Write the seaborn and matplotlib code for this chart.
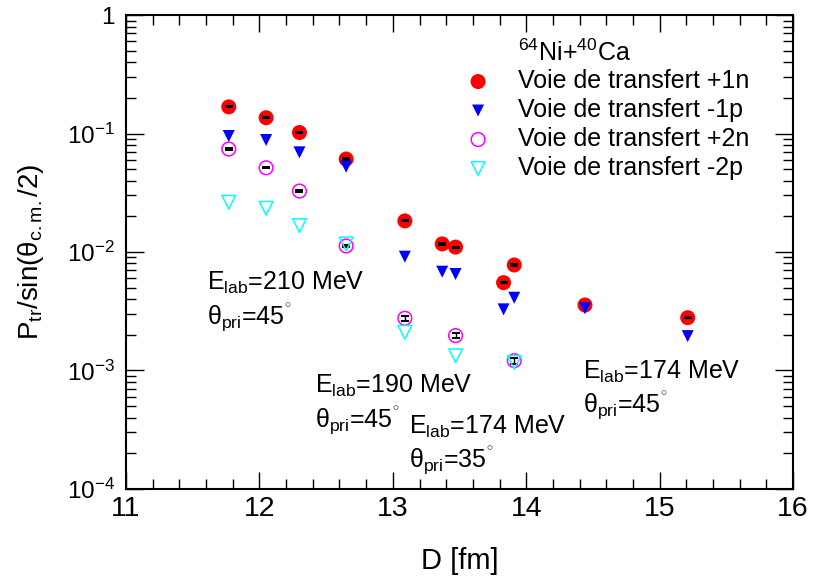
import numpy as np
import pandas as pd
import matplotlib
matplotlib.use("Agg")
import matplotlib.pyplot as plt
import seaborn as sns
from matplotlib.ticker import FuncFormatter, MultipleLocator, LogLocator, NullFormatter

# Donnees
D_1n = [11.77, 12.05, 12.30, 12.65, 13.09, 13.37, 13.47, 13.83, 13.91, 14.44, 15.21]
P_1n = [0.168, 0.136, 0.102, 0.0609, 0.0183, 0.0117, 0.0110, 0.00551, 0.00777, 0.00357, 0.00279]
err_1n = [0.002, 0.0016, 0.0012, 0.0007, 0.0002, 0.00013, 0.00012, 0.00006, 0.00009, 0.00004, 0.00003]

D_1p = [11.77, 12.05, 12.30, 12.65, 13.09, 13.37, 13.47, 13.83, 13.91, 14.44, 15.21]
P_1p = [0.0953, 0.0882, 0.0694, 0.0525, 0.00913, 0.00682, 0.00652, 0.00328, 0.00411, 0.00335, 0.00195]

D_2n = [11.77, 12.05, 12.30, 12.65, 13.09, 13.47, 13.91]
P_2n = [0.0740, 0.0514, 0.0327, 0.01125, 0.00276, 0.00197, 0.00121]
err_2n = [0.0009, 0.0006, 0.0004, 0.00013, 0.00013, 0.0001, 0.00007]

D_2p = [11.77, 12.05, 12.30, 12.65, 13.09, 13.47, 13.91]
P_2p = [0.0263, 0.0234, 0.0167, 0.0117, 0.00210, 0.00133, 0.00117]

labels = ['Voie de transfert +1n', 'Voie de transfert -1p',
          'Voie de transfert +2n', 'Voie de transfert -2p']

sns.set_style('ticks')
plt.rcParams['font.family'] = ['Liberation Sans', 'DejaVu Sans']
plt.rcParams['mathtext.fontset'] = 'custom'
plt.rcParams['mathtext.rm'] = 'Liberation Sans'
plt.rcParams['mathtext.it'] = 'Liberation Sans:italic'
plt.rcParams['mathtext.bf'] = 'Liberation Sans:bold'
plt.rcParams['text.color'] = 'black'
plt.rcParams['axes.labelcolor'] = 'black'
plt.rcParams['xtick.color'] = 'black'
plt.rcParams['ytick.color'] = 'black'

fig = plt.figure(figsize=(8.13, 5.80), dpi=100)
ax = fig.add_axes([0.155, 0.157, 0.8205, 0.817])

# +1n
sns.scatterplot(x=D_1n, y=P_1n, ax=ax, marker='o', s=117, color='#ff0000',
                edgecolor='none', linewidth=0, label=labels[0], zorder=3)
ax.errorbar(D_1n, P_1n, yerr=err_1n, fmt='none', ecolor='black', elinewidth=1,
            capsize=3, capthick=1.5, zorder=4)
# -1p
sns.scatterplot(x=D_1p, y=P_1p, ax=ax, marker='v', s=75, color='#0000ff',
                edgecolor='none', linewidth=0, label=labels[1], zorder=5)
# +2n
sns.scatterplot(x=D_2n, y=P_2n, ax=ax, marker='o', s=97, color='#ff00ff',
                facecolor='none', edgecolor='#ff00ff', linewidth=1.1,
                label=labels[2], zorder=6)
ax.errorbar(D_2n, P_2n, yerr=err_2n, fmt='none', ecolor='black', elinewidth=1,
            capsize=3, capthick=1.5, zorder=7)
# -2p
sns.scatterplot(x=D_2p, y=P_2p, ax=ax, marker='v', s=97, color='#00ffff',
                facecolor='none', edgecolor='#00ffff', linewidth=1.1,
                label=labels[3], zorder=8)

ax.set_yscale('log')
ax.set_xlim(11, 16)
ax.set_ylim(1e-4, 1)

ax.xaxis.set_major_locator(MultipleLocator(1))
ax.xaxis.set_minor_locator(MultipleLocator(0.2))
ax.yaxis.set_major_locator(LogLocator(base=10, numticks=10))
ax.yaxis.set_minor_locator(LogLocator(base=10, subs=np.arange(2, 10), numticks=20))
ax.yaxis.set_minor_formatter(NullFormatter())
ax.yaxis.set_major_formatter(FuncFormatter(
    lambda v, p: '1' if abs(v - 1) < 1e-9 else r'$10^{%d}$' % round(np.log10(v))))

for s in ax.spines.values():
    s.set_linewidth(1.5)
    s.set_color('black')
ax.tick_params(axis='x', which='major', direction='in', length=12, width=1,
               top=True, labelsize=20.5, pad=5)
ax.tick_params(axis='x', which='minor', direction='in', length=7, width=1, top=True)
ax.tick_params(axis='y', which='major', direction='in', length=13, width=1,
               right=True, labelsize=17.5, pad=8)
ax.tick_params(axis='y', which='minor', direction='in', length=7, width=1, right=True)

ax.set_xlabel('D [fm]', fontsize=21)
ax.set_ylabel(r'P$_{\mathrm{tr}}$/sin(θ$_{\mathrm{c.m.}}$/2)', fontsize=20)
ax.xaxis.set_label_coords(0.5, -0.123)
ax.yaxis.set_label_coords(-0.12, 0.5)

leg = ax.legend(loc='upper left', bbox_to_anchor=(0.509, 0.886), frameon=False,
                fontsize=18, handlelength=1.0, handletextpad=1.1,
                labelspacing=0.2, borderpad=0, borderaxespad=0)
ax.text(0.588, 0.904, r'$^{64}$Ni+$^{40}$Ca', transform=ax.transAxes,
        fontsize=18, ha='left', va='baseline')

# annotations energie / angle
notes = [(11.607, 0.00484, 0.00247, '210', '45'),
         (12.417, 6.5e-4, 3.36e-4, '190', '45'),
         (13.121, 2.9e-4, 1.54e-4, '174', '35'),
         (14.424, 8.43e-4, 4.49e-4, '174', '45')]
for xx, y1, y2, e, th in notes:
    ax.text(xx, y1, r'E$_{\mathrm{lab}}$=' + e + ' MeV', fontsize=18,
            ha='left', va='baseline')
    ax.text(xx, y2, r'θ$_{\mathrm{pri}}$=' + th + r'$^{^{\circ}}$', fontsize=18,
            ha='left', va='baseline')

fig.savefig('out.png', dpi=100)
